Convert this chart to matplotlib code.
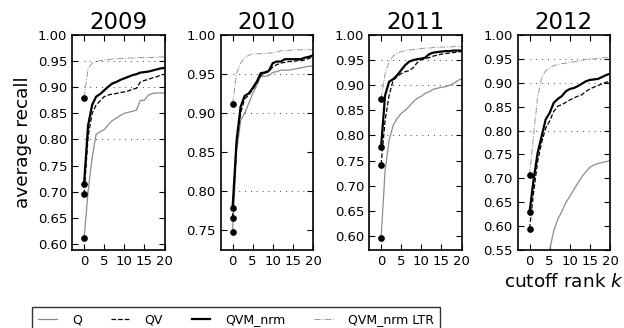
import matplotlib
matplotlib.use("Agg")
import matplotlib.pyplot as plt
import numpy as np

years = ["2009", "2010", "2011", "2012"]
series_names = ["Q", "QV", "QVM_nrm", "QVM_nrm LTR"]
k = list(range(21))

q_2009 = [0.611, 0.70, 0.765, 0.81, 0.815, 0.819, 0.828, 0.836, 0.841, 0.846, 0.850,
          0.852, 0.854, 0.856, 0.875, 0.875, 0.885, 0.888, 0.889, 0.889, 0.889]
qv_2009 = [0.695, 0.805, 0.85, 0.866, 0.874, 0.882, 0.885, 0.887, 0.888, 0.890, 0.891,
           0.893, 0.896, 0.898, 0.910, 0.913, 0.915, 0.918, 0.920, 0.923, 0.925]
qvm_2009 = [0.715, 0.827, 0.866, 0.882, 0.887, 0.894, 0.901, 0.907, 0.910, 0.914, 0.917,
            0.920, 0.923, 0.925, 0.928, 0.929, 0.930, 0.932, 0.934, 0.936, 0.937]
ltr_2009 = [0.880, 0.936, 0.9455, 0.949, 0.951, 0.952, 0.953, 0.954, 0.954, 0.955, 0.955,
            0.956, 0.956, 0.956, 0.957, 0.957, 0.957, 0.957, 0.958, 0.958, 0.958]

q_2010 = [0.748, 0.85, 0.89, 0.90, 0.912, 0.925, 0.935, 0.947, 0.947, 0.948, 0.952,
          0.953, 0.955, 0.955, 0.955, 0.956, 0.957, 0.958, 0.959, 0.960, 0.960]
qv_2010 = [0.766, 0.86, 0.90, 0.918, 0.923, 0.930, 0.938, 0.948, 0.951, 0.953, 0.959,
           0.962, 0.964, 0.965, 0.966, 0.966, 0.967, 0.967, 0.968, 0.970, 0.972]
qvm_2010 = [0.778, 0.865, 0.908, 0.922, 0.925, 0.932, 0.940, 0.951, 0.952, 0.954, 0.964,
            0.966, 0.966, 0.969, 0.969, 0.969, 0.969, 0.969, 0.971, 0.972, 0.974]
ltr_2010 = [0.911, 0.951, 0.964, 0.971, 0.974, 0.976, 0.976, 0.976, 0.976, 0.977, 0.977,
            0.978, 0.980, 0.980, 0.980, 0.981, 0.981, 0.981, 0.981, 0.981, 0.981]

q_2011 = [0.595, 0.73, 0.79, 0.82, 0.834, 0.844, 0.85, 0.858, 0.867, 0.874, 0.878,
          0.884, 0.887, 0.892, 0.894, 0.896, 0.897, 0.900, 0.903, 0.909, 0.913]
qv_2011 = [0.742, 0.83, 0.88, 0.91, 0.917, 0.923, 0.927, 0.929, 0.935, 0.945, 0.951,
           0.953, 0.955, 0.958, 0.960, 0.962, 0.963, 0.964, 0.965, 0.966, 0.967]
qvm_2011 = [0.777, 0.88, 0.907, 0.912, 0.92, 0.93, 0.94, 0.947, 0.95, 0.952, 0.953,
            0.955, 0.962, 0.965, 0.966, 0.967, 0.968, 0.968, 0.969, 0.969, 0.969]
ltr_2011 = [0.873, 0.923, 0.947, 0.958, 0.963, 0.967, 0.969, 0.970, 0.971, 0.972, 0.973,
            0.974, 0.974, 0.975, 0.975, 0.976, 0.976, 0.976, 0.977, 0.977, 0.977]

q_2012 = [0.33, 0.40, 0.45, 0.49, 0.525, 0.55, 0.59, 0.614, 0.63, 0.649, 0.662,
          0.676, 0.690, 0.703, 0.714, 0.723, 0.728, 0.731, 0.733, 0.735, 0.737]
qv_2012 = [0.595, 0.67, 0.735, 0.775, 0.805, 0.82, 0.84, 0.851, 0.854, 0.859, 0.864,
           0.868, 0.872, 0.875, 0.882, 0.887, 0.891, 0.894, 0.898, 0.901, 0.903]
qvm_2012 = [0.629, 0.697, 0.753, 0.788, 0.823, 0.837, 0.858, 0.866, 0.872, 0.882, 0.887,
            0.889, 0.893, 0.898, 0.903, 0.906, 0.907, 0.908, 0.912, 0.916, 0.919]
ltr_2012 = [0.706, 0.79, 0.87, 0.91, 0.925, 0.931, 0.936, 0.938, 0.94, 0.941, 0.943,
            0.944, 0.945, 0.947, 0.949, 0.95, 0.95, 0.951, 0.952, 0.953, 0.953]

ylims = [(0.5885, 1.0), (0.7245, 1.0), (0.572, 1.0), (0.55, 1.0)]
yticks_start = [0.60, 0.75, 0.60, 0.55]
ref_levels = [0.80, 0.90, 0.95]

data = {
    "2009": [q_2009, qv_2009, qvm_2009, ltr_2009],
    "2010": [q_2010, qv_2010, qvm_2010, ltr_2010],
    "2011": [q_2011, qv_2011, qvm_2011, ltr_2011],
    "2012": [q_2012, qv_2012, qvm_2012, ltr_2012],
}

styles = [
    dict(color="0.55", lw=0.9, ls="-"),
    dict(color="black", lw=0.9, ls="--"),
    dict(color="black", lw=1.6, ls="-"),
    dict(color="0.6", lw=0.7, ls="-."),
]

W, H = 624, 328
fig = plt.figure(figsize=(W / 100, H / 100), dpi=100)

lefts = [72, 220.5, 369, 517.5]
aw = 92.5
bottom_px, top_px = 250, 35

handles = []
for i, yr in enumerate(years):
    ax = fig.add_axes([lefts[i] / W, 1 - bottom_px / H, aw / W, (bottom_px - top_px) / H])
    for lv in ref_levels:
        ax.plot([0, 20], [lv, lv], color="black", lw=0.6, ls=(0, (1, 6)), zorder=1)
    for s, st in zip(data[yr], styles):
        h, = ax.plot(k, s, zorder=2, **st)
        if i == 0:
            handles.append(h)
    for s in data[yr]:
        ax.plot([k[0]], [s[0]], "o", color="black", ms=3.8, zorder=3, clip_on=True)
    ax.set_xlim(-3, 20)
    ax.set_ylim(*ylims[i])
    ax.set_xticks([0, 5, 10, 15, 20])
    ax.set_yticks(np.arange(yticks_start[i], 1.0001, 0.05))
    ax.yaxis.set_major_formatter(matplotlib.ticker.FormatStrFormatter("%.2f"))
    ax.tick_params(direction="in", top=True, right=True, length=4, width=0.8,
                   labelsize=9.5, pad=3.5)
    for sp in ax.spines.values():
        sp.set_linewidth(1.2)
    ax.set_title(yr, fontsize=16.5, pad=4)
    if i == 0:
        ax.set_ylabel("average recall", fontsize=13.3, labelpad=4)
    if i == 3:
        ax.set_xlabel("cutoff rank $k$", fontsize=13.3, labelpad=4)

leg = fig.legend(handles, series_names, loc="upper left",
                 bbox_to_anchor=(32 / W, 1 - 307 / H), borderaxespad=0,
                 ncol=4, fontsize=9, frameon=True, fancybox=False,
                 handlelength=1.5, handletextpad=1.2, columnspacing=2.3,
                 borderpad=0.5)
leg.get_frame().set_edgecolor("black")
leg.get_frame().set_linewidth(1.0)

fig.savefig("out.png", dpi=100)
